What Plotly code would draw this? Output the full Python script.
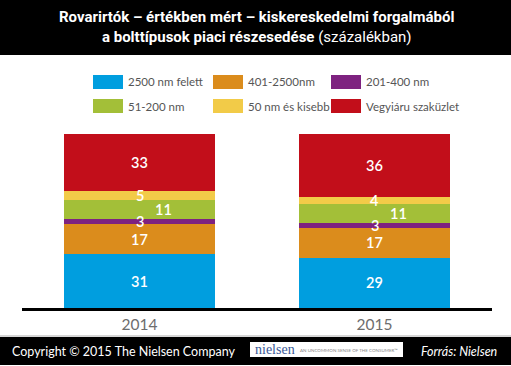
import plotly.graph_objects as go

years = ["2014", "2015"]
series_names = ["2500 nm felett", "401-2500nm", "201-400 nm", "51-200 nm", "50 nm és kisebb", "Vegyiáru szaküzlet"]
v_2500_felett = [31, 29]
v_401_2500 = [17, 17]
v_201_400 = [3, 3]
v_51_200 = [11, 11]
v_50_alatt = [5, 4]
v_vegyiaru = [33, 36]
series_values = [v_2500_felett, v_401_2500, v_201_400, v_51_200, v_50_alatt, v_vegyiaru]
colors = ["#009EDF", "#DB8C1C", "#7E2280", "#A3BF38", "#F2CB48", "#C20E1A"]

W, H = 511, 366
L, R, T, B = 22, 19, 134, 58
PW, PH = W - L - R, H - T - B

def px(x):
    return (x - L) / PW

def py(y):
    return (H - B - y) / PH

COND = "Roboto, sans-serif"
BODY = "Lato, sans-serif"

fig = go.Figure()
for name, vals, col in zip(series_names, series_values, colors):
    fig.add_trace(go.Bar(x=years, y=vals, name=name, marker=dict(color=col, line=dict(width=0)),
                         width=0.64, showlegend=False, hoverinfo="skip"))

annotations = []
# value labels from data
for i, yr in enumerate(years):
    base = 0
    for k, vals in enumerate(series_values):
        v = vals[i]
        annotations.append(dict(x=i, y=base + v / 2, xref="x", yref="y", text=str(v), showarrow=False,
                                xshift=24 if k == 3 else 0, borderpad=0,
                                font=dict(color="white", size=14.5, family=BODY, weight=600)))
        base += v

shapes = []
# title bar
shapes.append(dict(type="rect", xref="paper", yref="paper", x0=px(0), x1=px(W), y0=py(55), y1=py(0),
                   fillcolor="black", line=dict(width=0), layer="below"))
annotations.append(dict(x=0.5, xref="paper", y=py(27), yref="paper", showarrow=False,
                        text="<b>Rovarirtók – értékben mért – kiskereskedelmi forgalmából</b><br><b>a bolttípusok piaci részesedése</b> (százalékban)",
                        font=dict(color="white", size=15, family=COND), align="center", yanchor="middle",
                        xanchor="center"))
# legend (manual)
cols_x = [93, 213, 331]
rows_y = [82, 106]
for idx, (name, col) in enumerate(zip(series_names, colors)):
    cx = cols_x[idx % 3]
    ry = rows_y[idx // 3]
    shapes.append(dict(type="rect", xref="paper", yref="paper", x0=px(cx), x1=px(cx + 30),
                       y0=py(ry + 7), y1=py(ry - 7), fillcolor=col, line=dict(width=0)))
    annotations.append(dict(x=px(cx + 33), y=py(ry), xref="paper", yref="paper", text=name, showarrow=False,
                            xanchor="left", yanchor="middle",
                            font=dict(color="#555555", size=11.5, family=BODY)))
# footer
shapes.append(dict(type="line", xref="paper", yref="paper", x0=px(0), x1=px(W), y0=py(336), y1=py(336),
                   line=dict(color="#c8c8c8", width=1.5)))
shapes.append(dict(type="rect", xref="paper", yref="paper", x0=px(0), x1=px(W), y0=py(365), y1=py(337),
                   fillcolor="black", line=dict(width=0)))
shapes.append(dict(type="rect", xref="paper", yref="paper", x0=px(250), x1=px(403), y0=py(357), y1=py(342),
                   fillcolor="white", line=dict(width=0)))
annotations.append(dict(x=px(10), y=py(351), xref="paper", yref="paper", showarrow=False, xanchor="left",
                        yanchor="middle", text="Copyright © 2015 The Nielsen Company",
                        font=dict(color="white", size=12.5, family=BODY)))
annotations.append(dict(x=px(253), y=py(349.5), xref="paper", yref="paper", showarrow=False, xanchor="left",
                        yanchor="middle", text="nielsen",
                        font=dict(color="#3B5998", size=14, family="Liberation Serif, DejaVu Serif, serif")))
annotations.append(dict(x=px(298), y=py(350), xref="paper", yref="paper", showarrow=False, xanchor="left",
                        yanchor="middle", text="AN UNCOMMON SENSE OF THE CONSUMER™",
                        font=dict(color="#888888", size=4.5, family=BODY)))
annotations.append(dict(x=px(499), y=py(351), xref="paper", yref="paper", showarrow=False, xanchor="right",
                        yanchor="middle", text="<i>Forrás: Nielsen</i>",
                        font=dict(color="white", size=12.5, family=BODY)))

fig.update_layout(
    width=W, height=H, margin=dict(l=L, r=R, t=T, b=B, pad=0),
    paper_bgcolor="white", plot_bgcolor="white", barmode="stack",
    xaxis=dict(type="category", range=[-0.5, 1.5], showline=True, linecolor="black", linewidth=3, showgrid=False,
               ticks="", tickfont=dict(color="#6d6d6d", size=15.5, family=BODY), fixedrange=True),
    yaxis=dict(range=[0, 100], visible=False, showgrid=False, fixedrange=True),
    shapes=shapes, annotations=annotations, showlegend=False,
)
fig.write_html("out.html", config={"displayModeBar": False},
               post_script="document.body.style.margin='0';")
